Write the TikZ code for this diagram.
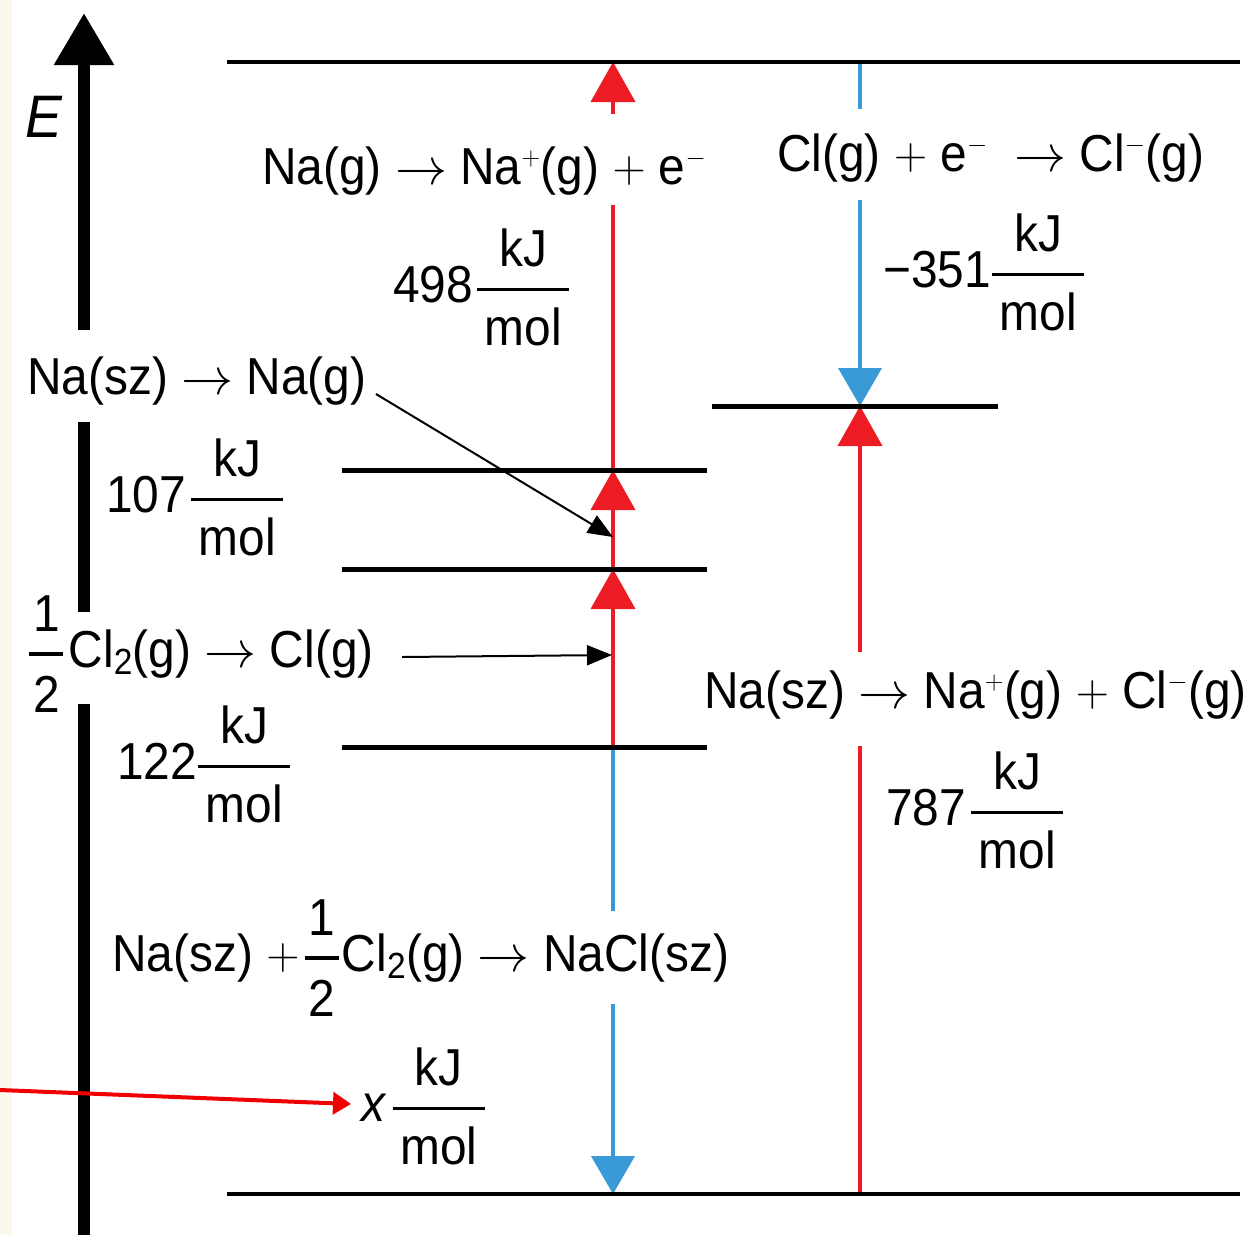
\RequirePackage{fix-cm}
\documentclass[tikz,border=0pt]{standalone}
\usepackage{amsmath}
\usepackage{fontspec}
\setmainfont{Liberation Sans}[FakeStretch=0.92]
\usetikzlibrary{arrows.meta}
\definecolor{cred}{RGB}{237,28,36}
\definecolor{cblue}{RGB}{57,154,215}
\definecolor{annred}{RGB}{240,0,0}
\definecolor{cream}{RGB}{253,248,236}
\newcommand\kjm{\ensuremath{\genfrac{}{}{3pt}{0}{\hbox{kJ}}{\hbox to 92pt{\vrule height 46pt width 0pt\hfil mol\hfil}}}}
\newcommand\half{\ensuremath{\genfrac{}{}{3.5pt}{0}{\hbox{1}}{\hbox to 34pt{\vrule height 46pt width 0pt\hfil 2\hfil}}}}
\newcommand\ra{\ensuremath{\rightarrow}}
\newcommand\pl{\raisebox{1.5pt}{\fontsize{46}{46}\selectfont\ensuremath{+}}}
\newcommand\sps{\ensuremath{^{\scriptscriptstyle +}}}
\newcommand\smi{\ensuremath{^{\scriptscriptstyle -}}}
\begin{document}
\begin{tikzpicture}[x=1pt,y=-1pt,
  every node/.style={font=\fontsize{52}{60}\selectfont,inner sep=0pt,anchor=base west},
  lvl/.style={line width=5pt},
  edge/.style={line width=4pt},
  rl/.style={draw=cred,line width=4pt},
  bl/.style={draw=cblue,line width=4pt},
  rtip/.style={-{Triangle[length=40pt,width=44pt]}},
  btip/.style={-{Triangle[length=38pt,width=43pt]}},
  axis/.style={line width=12pt},
  ann/.style={line width=2pt,-{Triangle[length=25pt,width=20pt]}},
  annr/.style={draw=annred,line width=4pt,-{Triangle[length=18pt,width=22pt]}}]
\fill[white] (0,0) rectangle (1260,1235);
\fill[cream] (0,0) rectangle (12,1235);
\useasboundingbox (0,0) rectangle (1260,1235);
% coordinates of levels
\coordinate (T1) at (227,62);   \coordinate (T2) at (1240,62);
\coordinate (B1) at (227,1194); \coordinate (B2) at (1240,1194);
\coordinate (C1) at (712,406);  \coordinate (C2) at (998,406);
\coordinate (S1) at (342,470);  \coordinate (S2) at (707,470);
\coordinate (G1) at (342,569);  \coordinate (G2) at (707,569);
\coordinate (H1) at (342,747);  \coordinate (H2) at (707,747);
% red/blue column at 613
\coordinate (rA) at (613,747); \coordinate (rB) at (613,569);
\coordinate (rC) at (613,470); \coordinate (rD) at (613,205);
\coordinate (rE) at (613,114); \coordinate (rF) at (613,62);
\coordinate (bA) at (613,911); \coordinate (bB) at (613,1004);
\coordinate (bC) at (613,1194);
% column at 860
\coordinate (cA) at (860,62);  \coordinate (cB) at (860,109);
\coordinate (cC) at (860,200); \coordinate (cD) at (860,406);
\coordinate (dA) at (860,1194); \coordinate (dB) at (860,746);
\coordinate (dC) at (860,652);
% axis
\coordinate (a1) at (84,1235); \coordinate (a2) at (84,704);
\coordinate (a3) at (84,612);  \coordinate (a4) at (84,422);
\coordinate (a5) at (84,330);  \coordinate (a6) at (84,13);
% annotation endpoints
\coordinate (p1) at (376,394); \coordinate (p2) at (613,537);
\coordinate (q1) at (402,657); \coordinate (q2) at (612,655);
\coordinate (u1) at (0,1090);  \coordinate (u2) at (351,1104);

% vertical arrows
\draw[rl,rtip] (rA) -- (rB);
\draw[rl,rtip] (rB) -- (rC);
\draw[rl] (rC) -- (rD);
\draw[rl,rtip] (rE) -- (rF);
\draw[bl] (rA) -- (bA);
\draw[bl,btip] (bB) -- (bC);
\draw[bl] (cA) -- (cB);
\draw[bl,btip] (cC) -- (cD);
\draw[rl] (dA) -- (dB);
\draw[rl,rtip] (dC) -- (cD);

% levels
\draw[edge] (T1) -- (T2);
\draw[edge] (B1) -- (B2);
\draw[lvl] (C1) -- (C2);
\draw[lvl] (S1) -- (S2);
\draw[lvl] (G1) -- (G2);
\draw[lvl] (H1) -- (H2);

% energy axis
\draw[axis] (a1) -- (a2);
\draw[axis] (a3) -- (a4);
\draw[axis,-{Triangle[length=52pt,width=57pt]}] (a5) -- (a6);

% texts
\node[font=\fontsize{60}{66}\selectfont\itshape] (tE) at (25,137) {E};
\node (tIon) at (262,184) {Na(g) \ra\ Na\sps(g) \pl\ e\smi};
\node (tEA) at (777,171) {Cl(g) \pl\ e\smi\ \ \ra\ Cl\smi(g)};
\node (f498) at (393,302) {498\kern3pt\kjm};
\node (f351) at (883,287) {−351\kjm};
\node (tSub) at (27,394) {Na(sz) \ra\ Na(g)};
\node (f107) at (106,512) {107\kern4pt\kjm};
\node (tAt) at (28,667) {\half\kern4pt Cl\textsubscript{2}(g) \ra\ Cl(g)};
\node (f122) at (117,779) {122\kjm};
\node (tLat) at (704,708) {Na(sz) \ra\ Na\sps(g) \pl\ Cl\smi(g)};
\node (f787) at (886,825) {787\kern4pt\kjm};
\node (tForm) at (112,971) {Na(sz) \pl\kern4pt\half\kern2pt Cl\textsubscript{2}(g) \ra\ NaCl(sz)};
\node (fx) at (361,1121) {\textit{x}\kern5pt\kjm};

% annotation arrows
\draw[ann] (p1) -- (p2);
\draw[ann] (q1) -- (q2);
\draw[annr] (u1) -- (u2);
\end{tikzpicture}
\end{document}
